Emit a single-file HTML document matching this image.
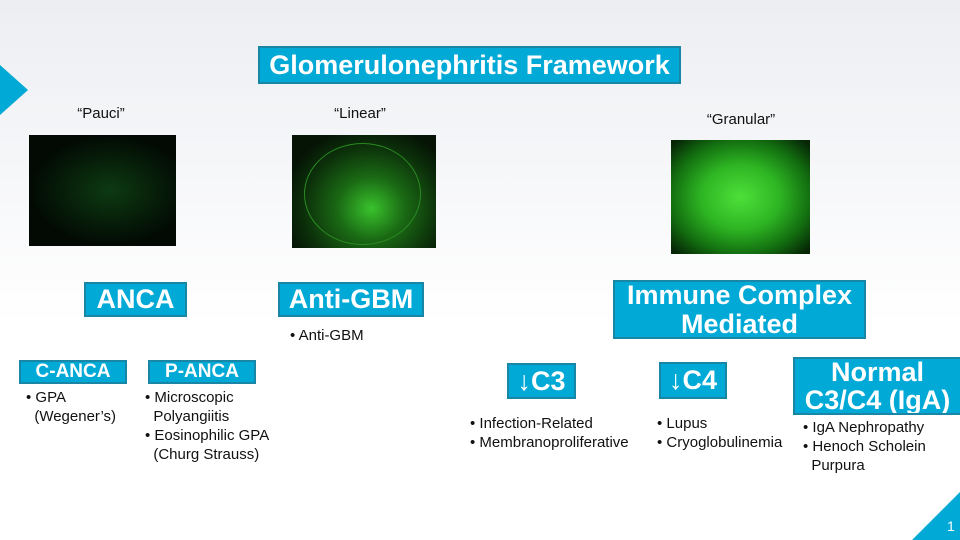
<!DOCTYPE html>
<html><head><meta charset="utf-8"><style>
body{margin:0;width:960px;height:540px;overflow:hidden;background:linear-gradient(#eceef2,#ffffff 60%);font-family:"Liberation Sans",sans-serif;position:relative}
.b{position:absolute;background:#00a9d6;border:2px solid #1a86a5;box-sizing:border-box;color:#fff;font-weight:bold;display:flex;align-items:center;justify-content:center;text-align:center;line-height:1.05;white-space:nowrap}
.t{position:absolute;font-size:15px;color:#111;line-height:19px;white-space:nowrap}
.l{position:absolute;font-size:15px;color:#111;transform:translateX(-50%)}
.img{position:absolute;background:#000;overflow:hidden}
</style></head><body>
<div style="position:absolute;left:0;top:65px;width:0;height:0;border-top:25px solid transparent;border-bottom:25px solid transparent;border-left:28px solid #00a9d6"></div>
<div style="position:absolute;left:912px;top:492px;width:0;height:0;border-left:48px solid transparent;border-bottom:48px solid #00a9d6"></div>
<div style="position:absolute;left:947px;top:518px;color:#fff;font-size:14px">1</div>
<div class="b" style="left:258px;top:46px;width:423px;height:38px;font-size:27px">Glomerulonephritis Framework</div>
<div class="l" style="left:101px;top:105px">“Pauci”</div>
<div class="l" style="left:360px;top:105px">“Linear”</div>
<div class="l" style="left:741px;top:111px">“Granular”</div>
<div class="img" style="left:29px;top:135px;width:147px;height:111px;background:radial-gradient(ellipse at 55% 50%,#0d3a12,#020a03 70%)"></div>
<div class="img" style="left:292px;top:135px;width:144px;height:113px;background:radial-gradient(ellipse at 55% 65%,#39c22c 0,#1a6a14 30%,#0c300a 60%,#051405 80%)"><div style="position:absolute;left:12px;top:8px;width:115px;height:100px;border:1px solid #2a8a22;border-radius:50%"></div></div>
<div class="img" style="left:671px;top:140px;width:139px;height:114px;background:radial-gradient(ellipse at 50% 50%,#4ee03a 0,#2eb523 40%,#137010 70%,#062606 95%)"></div>
<div class="b" style="left:84px;top:282px;width:103px;height:35px;font-size:27px">ANCA</div>
<div class="b" style="left:278px;top:282px;width:146px;height:35px;font-size:27px">Anti-GBM</div>
<div class="t" style="left:290px;top:326px">• Anti-GBM</div>
<div class="b" style="left:613px;top:280px;width:253px;height:59px;font-size:27px">Immune Complex<br>Mediated</div>
<div class="b" style="left:19px;top:360px;width:108px;height:24px;font-size:19px">C-ANCA</div>
<div class="b" style="left:148px;top:360px;width:108px;height:24px;font-size:19px">P-ANCA</div>
<div class="t" style="left:26px;top:388px">• GPA<br>&nbsp;&nbsp;(Wegener’s)</div>
<div class="t" style="left:145px;top:388px">• Microscopic<br>&nbsp;&nbsp;Polyangiitis<br>• Eosinophilic GPA<br>&nbsp;&nbsp;(Churg Strauss)</div>
<div class="b" style="left:507px;top:363px;width:69px;height:36px;font-size:27px">↓C3</div>
<div class="b" style="left:659px;top:362px;width:68px;height:37px;font-size:27px">↓C4</div>
<div class="b" style="left:793px;top:357px;width:167px;height:58px;font-size:27px;border-right:none;overflow:hidden">Normal<br>C3/C4 (IgA)</div>
<div class="t" style="left:470px;top:414px">• Infection-Related<br>• Membranoproliferative</div>
<div class="t" style="left:657px;top:414px">• Lupus<br>• Cryoglobulinemia</div>
<div class="t" style="left:803px;top:418px">• IgA Nephropathy<br>• Henoch Scholein<br>&nbsp;&nbsp;Purpura</div>
</body></html>
